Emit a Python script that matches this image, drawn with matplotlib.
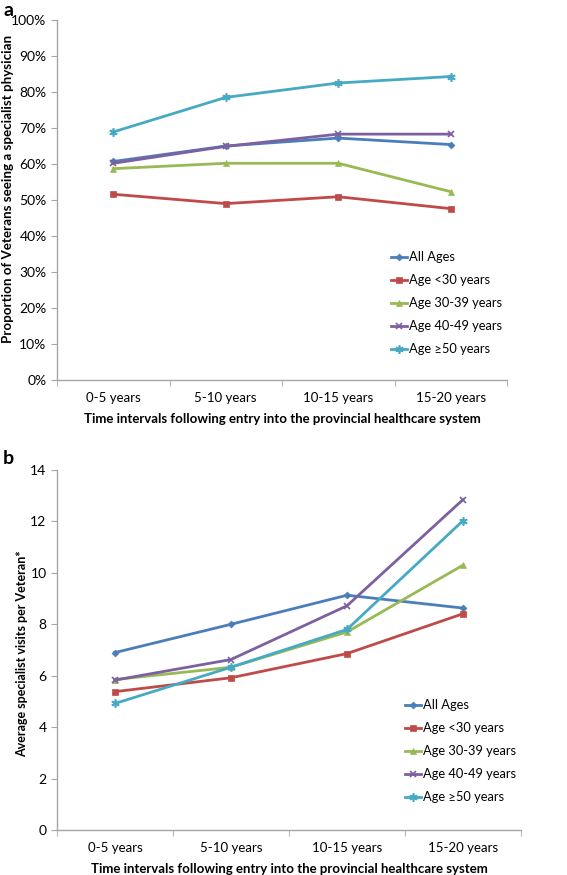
import matplotlib
matplotlib.use('Agg')
import matplotlib.pyplot as plt
from matplotlib.ticker import PercentFormatter

plt.rcParams['font.family'] = ['Lato', 'DejaVu Sans']

intervals = ['0-5 years', '5-10 years', '10-15 years', '15-20 years']
series = ['All Ages', 'Age <30 years', 'Age 30-39 years', 'Age 40-49 years', 'Age \u226550 years']

# panel a: proportion seeing a specialist (%)
prop_all = [60.7, 65.0, 67.2, 65.4]
prop_u30 = [51.6, 49.0, 50.9, 47.6]
prop_30_39 = [58.7, 60.2, 60.2, 52.3]
prop_40_49 = [60.2, 64.9, 68.3, 68.3]
prop_50 = [68.9, 78.5, 82.5, 84.3]

# panel b: average specialist visits per veteran
visits_all = [6.9, 8.0, 9.13, 8.63]
visits_u30 = [5.38, 5.92, 6.86, 8.41]
visits_30_39 = [5.85, 6.33, 7.7, 10.3]
visits_40_49 = [5.83, 6.63, 8.72, 12.85]
visits_50 = [4.92, 6.33, 7.8, 12.03]

colors = ['#4A7EBB', '#BE4B48', '#98B954', '#7D60A0', '#46AAC5']
markers = ['D', 's', '^', 'x', (6, 2, 0)]
msizes = [3.5, 5, 5, 5, 6]

fig = plt.figure(figsize=(5.67, 8.75), dpi=100)
ax_a = fig.add_axes([57 / 567, 1 - 380 / 875, 450 / 567, 360 / 875])
ax_b = fig.add_axes([57 / 567, 1 - 830 / 875, 464 / 567, 360 / 875])


def style(ax, ylabel, ysize, legend_y, label_xy):
    for s in ['top', 'right']:
        ax.spines[s].set_visible(False)
    for s in ['left', 'bottom']:
        ax.spines[s].set_color('#A6A6A6')
        ax.spines[s].set_linewidth(1.0)
    ax.set_xlim(-0.5, 3.5)
    ax.set_xticks(range(4))
    ax.set_xticklabels(intervals, fontsize=9.5)
    ax.set_xticks([-0.5, 0.5, 1.5, 2.5, 3.5], minor=True)
    ax.tick_params(axis='x', which='major', length=0, pad=9)
    ax.tick_params(axis='x', which='minor', length=4, color='#A6A6A6')
    ax.tick_params(axis='y', length=4, color='#A6A6A6', labelsize=10)
    ax.set_xlabel('Time intervals following entry into the provincial healthcare system',
                  fontsize=9.5, fontweight='bold', labelpad=6)
    ax.set_ylabel(ylabel, fontsize=ysize, fontweight='bold')
    ax.yaxis.set_label_coords(*label_xy)
    ax.legend(loc='lower right', bbox_to_anchor=(1.0, legend_y), frameon=False,
              fontsize=9.3, handlelength=1.3, handletextpad=0.1, labelspacing=0.85,
              borderaxespad=0)


data_a = [prop_all, prop_u30, prop_30_39, prop_40_49, prop_50]
for vals, name, c, m, ms in zip(data_a, series, colors, markers, msizes):
    ax_a.plot(range(4), vals, color=c, marker=m, markersize=ms, lw=2,
              markeredgewidth=1.2 if m in ('x',) or isinstance(m, tuple) else 0.5,
              label=name)
ax_a.set_ylim(0, 100)
ax_a.set_yticks(range(0, 101, 10))
ax_a.yaxis.set_major_formatter(PercentFormatter(decimals=0))
style(ax_a, 'Proportion of Veterans seeing a specialist physician', 9.6, 0.055,
      ((14 - 57) / 450, 0.53))

data_b = [visits_all, visits_u30, visits_30_39, visits_40_49, visits_50]
for vals, name, c, m, ms in zip(data_b, series, colors, markers, msizes):
    ax_b.plot(range(4), vals, color=c, marker=m, markersize=ms, lw=2,
              markeredgewidth=1.2 if m in ('x',) or isinstance(m, tuple) else 0.5,
              label=name)
ax_b.set_ylim(0, 14)
ax_b.set_yticks(range(0, 15, 2))
style(ax_b, 'Average specialist visits per Veteran*', 9.0, 0.06,
      ((28 - 57) / 464, 0.49))

fig.text(3 / 567, 1 - 10 / 875, 'a', fontsize=14, fontweight='bold', va='center')
fig.text(3 / 567, 1 - 458 / 875, 'b', fontsize=14, fontweight='bold', va='center')

fig.savefig('out.png', dpi=100)
